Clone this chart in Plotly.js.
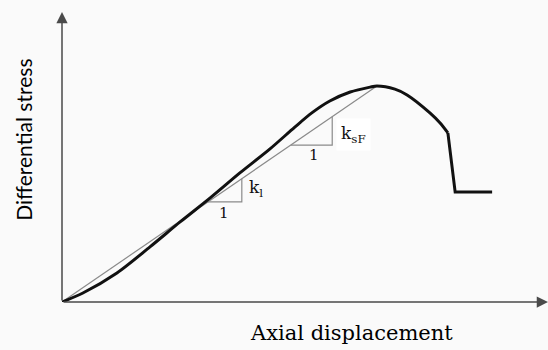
<!DOCTYPE html>
<html>
<head>
<meta charset="utf-8">
<script src="https://cdn.plot.ly/plotly-3.0.1.min.js"></script>
<style>
  html, body { margin: 0; padding: 0; background: #fafafa; }
  #chart { width: 548px; height: 350px; }
</style>
</head>
<body>
<div id="chart"></div>
<script>
// stress-displacement curve (arbitrary units, 0..10)
var curveX = [0, 0.43, 1.13, 1.81, 2.43, 3.05, 3.66, 4.28, 4.79, 5.14, 5.51, 5.93, 6.34, 6.48, 6.85, 7.10, 7.57, 7.78, 7.94];
var curveY = [0, 0.31, 1.00, 1.90, 2.76, 3.59, 4.45, 5.28, 6.03, 6.52, 6.93, 7.24, 7.41, 7.45, 7.34, 7.14, 6.52, 6.17, 5.83];
// sudden drop after failure
var dropX = [7.94, 8.09, 8.85];
var dropY = [5.83, 3.79, 3.79];
// secant from origin to peak
var secantX = [0, 6.48];
var secantY = [0, 7.45];
// slope triangles
var tri1X = [3.00, 3.70, 3.70];
var tri1Y = [3.45, 3.45, 4.25];
var tri2X = [4.71, 5.56, 5.56];
var tri2Y = [5.41, 5.41, 6.39];

var greyLine = '#8a8a8a';

var data = [
  { x: secantX, y: secantY, mode: 'lines', line: { color: greyLine, width: 1.2 } },
  { x: tri1X, y: tri1Y, mode: 'lines', line: { color: greyLine, width: 1.2 } },
  { x: tri2X, y: tri2Y, mode: 'lines', line: { color: greyLine, width: 1.2 } },
  { x: curveX, y: curveY, mode: 'lines', line: { color: '#111', width: 3, shape: 'spline', smoothing: 0.8 } },
  { x: dropX, y: dropY, mode: 'lines', line: { color: '#111', width: 3 } }
];

var serif = 'DejaVu Serif, serif';

var layout = {
  width: 548,
  height: 350,
  margin: { l: 62, r: 0, t: 12, b: 48 },
  paper_bgcolor: '#fafafa',
  plot_bgcolor: '#fafafa',
  showlegend: false,
  xaxis: { range: [0, 10], visible: false, fixedrange: true },
  yaxis: { range: [0, 10], visible: false, fixedrange: true },
  annotations: [
    // axes with arrowheads
    { x: 10, y: 0, ax: 0, ay: 0, xref: 'x', yref: 'y', axref: 'x', ayref: 'y', text: '',
      showarrow: true, arrowhead: 2, arrowsize: 1.5, arrowwidth: 1.5, arrowcolor: '#4a4a4a' },
    { x: 0, y: 10, ax: 0, ay: 0, xref: 'x', yref: 'y', axref: 'x', ayref: 'y', text: '',
      showarrow: true, arrowhead: 2, arrowsize: 1.5, arrowwidth: 1.5, arrowcolor: '#4a4a4a' },
    // axis titles
    { text: 'Differential stress', xref: 'paper', yref: 'paper', x: -0.08, y: 0.56,
      xanchor: 'center', yanchor: 'middle',
      textangle: -90, showarrow: false, font: { family: 'Lato', size: 21, color: '#000' } },
    { text: 'Axial displacement', xref: 'paper', yref: 'paper', x: 0.595, y: -0.107,
      xanchor: 'center', yanchor: 'middle',
      showarrow: false, font: { family: serif, size: 21, color: '#000' } },
    // slope labels
    { text: '1', x: 3.33, y: 3.07, xref: 'x', yref: 'y', showarrow: false,
      font: { family: serif, size: 15, color: '#111' } },
    { text: 'k<sub>l</sub>', x: 3.81, y: 3.93, xref: 'x', yref: 'y', xanchor: 'left', showarrow: false,
      font: { family: serif, size: 17, color: '#111' } },
    { text: '1', x: 5.19, y: 5.07, xref: 'x', yref: 'y', showarrow: false,
      font: { family: serif, size: 15, color: '#111' } },
    { text: 'k<sub>sF</sub>', x: 5.63, y: 5.79, xref: 'x', yref: 'y', xanchor: 'left', showarrow: false,
      bgcolor: '#ffffff', borderpad: 4, font: { family: serif, size: 17, color: '#111' } }
  ]
};

Plotly.newPlot('chart', data, layout, { staticPlot: true, displayModeBar: false });
</script>
</body>
</html>
